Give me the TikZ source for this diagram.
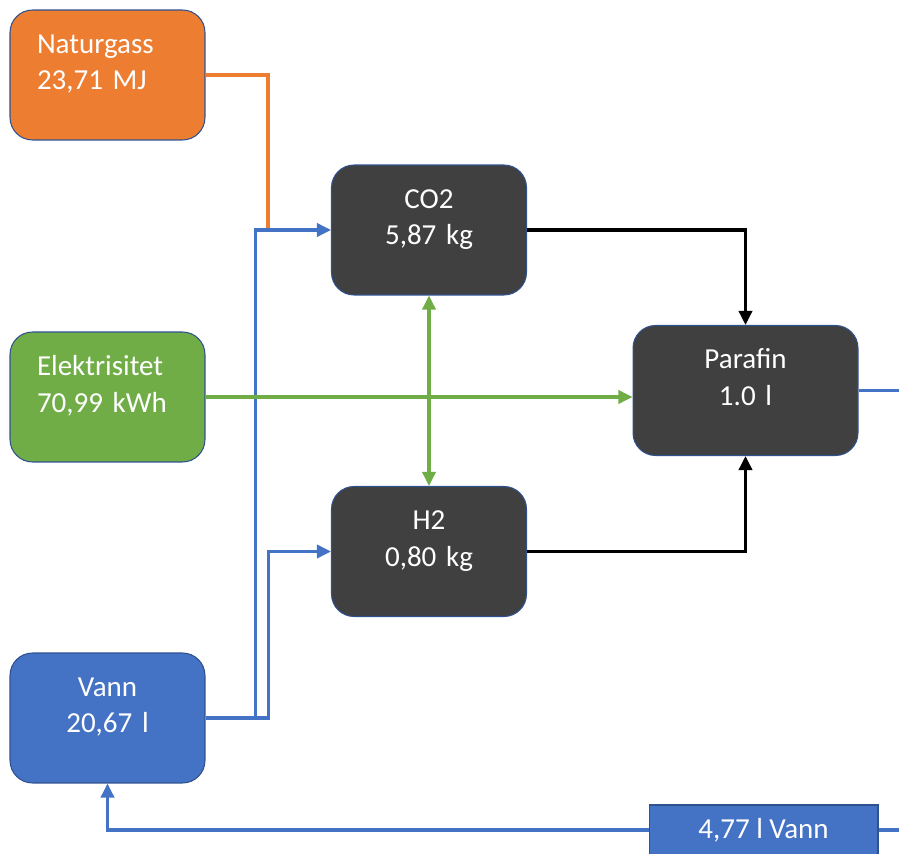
\documentclass[tikz,border=0pt]{standalone}
\usepackage{fontspec}
\setmainfont{Carlito}
\usetikzlibrary{arrows.meta}
\definecolor{gasorange}{HTML}{ED7D31}
\definecolor{elgreen}{HTML}{70AD47}
\definecolor{waterblue}{HTML}{4472C4}
\definecolor{procgrey}{HTML}{404040}
\definecolor{rimblue}{HTML}{2F528F}
\tikzset{
	box/.style={draw=rimblue, line width=0.6pt, rounded corners=0.45cm,
		minimum width=3.9cm, minimum height=2.6cm, inner xsep=0.54cm, inner ysep=0pt,
		text width=2.82cm, text=white, font=\fontsize{16.5}{21}\selectfont,
		execute at begin node={\rule{0pt}{0.4cm}},
		execute at end node={\rule[-0.54cm]{0pt}{0pt}}},
	flow/.style={line width=1.8pt},
	tip/.style={-{Triangle[length=8pt,width=7.5pt]}}
}

\begin{document}
\begin{tikzpicture}[x=0.02cm, y=-0.02cm]
	%%%%% START %%%%%
	\useasboundingbox (0,0) rectangle (899,854);
	\clip (0,0) rectangle (899,854);
	
	% inputs
	\node[box, fill=gasorange, align=left] (ng) at (107.5,75) {Naturgass\\23,71 MJ};
	\node[box, fill=elgreen, align=left] (el) at (107.5,397) {Elektrisitet\\70,99 kWh};
	\node[box, fill=waterblue, align=center] (vann) at (107.5,718) {Vann\\20,67 l};
	
	% process
	\node[box, fill=procgrey, align=center] (co2) at (429,230) {CO2\\5,87 kg};
	\node[box, fill=procgrey, align=center] (h2) at (429,551.5) {H2\\0,80 kg};
	\node[box, fill=procgrey, align=center, minimum width=4.5cm, text width=3.42cm] (par) at (745.5,390.5) {Parafin\\1.0 l};
	
	% returned water
	\node[draw=rimblue, line width=0.6pt, fill=waterblue, text=white, minimum width=4.58cm, minimum height=1cm,
		font=\fontsize{16.5}{21}\selectfont] (rest) at (763.5,830) {4,77 l Vann};
	
	\coordinate (join) at (268,230);
	\coordinate (outpar) at (899,390.5);
	\coordinate (outrest) at (899,830);
	
	\draw[flow, gasorange] (ng.east) -| (join);
	\draw[flow, waterblue, tip] (vann.east) -- ++(50,0) |- (co2.west);
	\draw[flow, waterblue, tip] (vann.east) -- ++(63,0) |- (h2.west);
	
	\draw[flow, black, tip] (co2.east) -| (par.north);
	\draw[flow, black, tip] (h2.east) -| (par.south);
	
	\draw[flow, elgreen, tip] (el.east) -- (el.east -| par.west);
	\draw[flow, elgreen, {Triangle[length=8pt,width=7.5pt]}-{Triangle[length=8pt,width=7.5pt]}] (co2.south) -- (h2.north);
	
	\draw[flow, waterblue] (par.east) -- (outpar);
	\draw[flow, waterblue] (rest.east) -- (outrest);
	\draw[flow, waterblue, tip] (rest.west) -| (vann.south);
	
	%%%%% END %%%%%
\end{tikzpicture}
\end{document}
